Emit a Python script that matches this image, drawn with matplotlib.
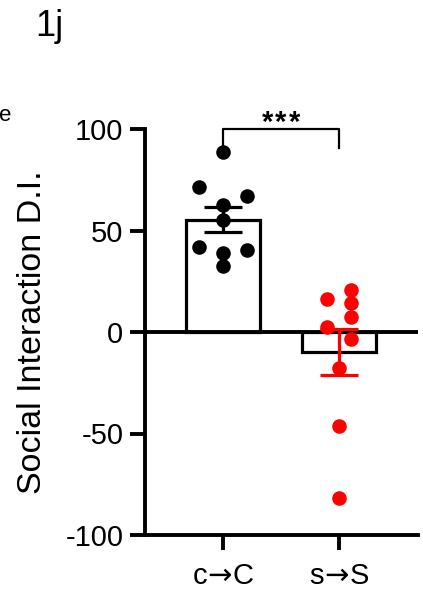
import numpy as np
import matplotlib
matplotlib.use("Agg")
import matplotlib.pyplot as plt

plt.rcParams['font.family'] = ['Liberation Sans', 'DejaVu Sans']
plt.rcParams['mathtext.fontset'] = 'dejavusans'

categories = [r"c$\!\rightarrow\!$C", r"s$\!\rightarrow\!$S"]
ctrl_vals = [88.5, 71.3, 67.0, 62.6, 55.2, 42.0, 40.4, 38.8, 32.7]
ctrl_jit = [0.0, -0.21, 0.21, 0.0, 0.0, -0.21, 0.21, 0.0, 0.0]
stress_vals = [16.1, 20.7, 14.1, 7.2, 2.6, -3.4, -17.9, -46.3, -81.9]
stress_jit = [-0.106, 0.103, 0.103, 0.103, -0.106, 0.103, 0.0, 0.0, 0.0]
yticks = [-100, -50, 0, 50, 100]
sig_label = "*"

groups = [ctrl_vals, stress_vals]
jits = [ctrl_jit, stress_jit]
colors = ["black", "#ff0000"]
means = [np.mean(g) for g in groups]
sems = [np.std(g, ddof=1) / np.sqrt(len(g)) for g in groups]

W, H = 423, 591
fig = plt.figure(figsize=(W / 100, H / 100), dpi=100)
ax = fig.add_axes([145 / W, 1 - 535 / H, (418 - 145) / W, (535 - 129) / H])

x = np.arange(len(categories))
ax.bar(x, means, width=0.64, color="white", edgecolor="black", linewidth=2.3, zorder=2)
ax.axhline(0, color="black", linewidth=2.8, zorder=3)

for i, (g, j, c) in enumerate(zip(groups, jits, colors)):
    ax.scatter(x[i] + np.array(j), g, s=110, color=c, zorder=4, linewidths=0, clip_on=False)
    ax.errorbar(x[i], means[i], yerr=sems[i], color=c, capsize=14, capthick=2.3,
                elinewidth=2.3, zorder=5, fmt="none")

ax.set_xlim(-0.672, 1.681)
ax.set_ylim(-100, 100)
ax.set_yticks(yticks)
ax.set_yticklabels([str(t) for t in yticks])
ax.set_xticks(x)
ax.set_xticklabels(categories)

for s in ["top", "right"]:
    ax.spines[s].set_visible(False)
for s in ["left", "bottom"]:
    ax.spines[s].set_linewidth(2.8)
ax.tick_params(axis="both", length=10.5, width=2.8, labelsize=21, direction="out")
ax.tick_params(axis="y", pad=5)
ax.tick_params(axis="x", pad=9)

ax.set_ylabel("Social Interaction D.I.", fontsize=24.5)
ax.yaxis.set_label_coords(-0.355, 0.5)

# significance bracket
yb = 100
ax.plot([x[0], x[0], x[1], x[1]], [91, yb, yb, 90.6], color="black", lw=1.6,
        clip_on=False, zorder=6)
mid = (x[0] + x[1]) / 2
for k in (-1, 0, 1):
    ax.annotate(sig_label, xy=(mid, 99), xytext=(k * 10, 0), textcoords="offset points",
                ha="center", va="baseline", fontsize=21, fontweight="bold",
                annotation_clip=False)

fig.text(35 / W, 1 - 36 / H, "1j", fontsize=26, ha="left", va="baseline")
fig.text(11 / W, 1 - 121 / H, "e", fontsize=16, ha="right", va="baseline")

fig.savefig("out.png", dpi=100)
